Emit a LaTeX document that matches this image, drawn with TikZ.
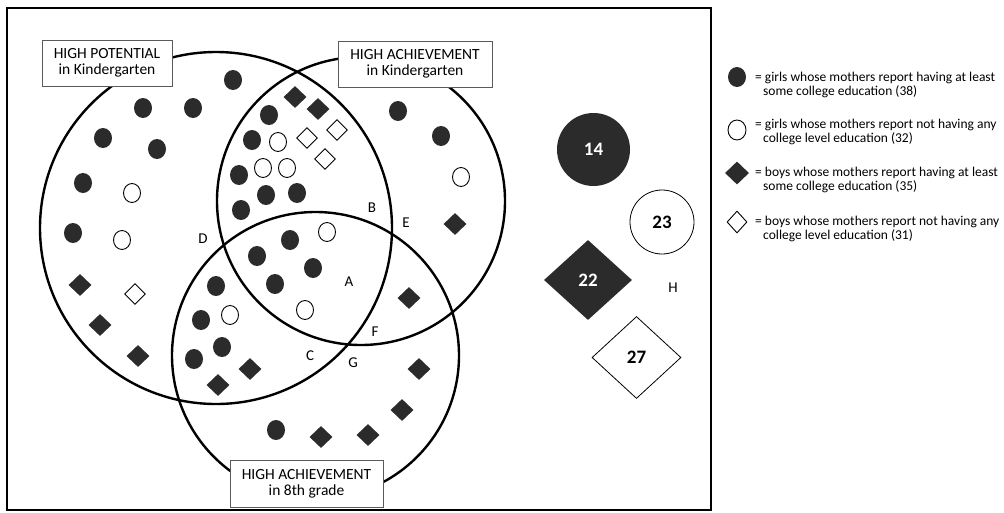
\documentclass[tikz,border=0pt]{standalone}
\usepackage{fontspec}
\setmainfont{Carlito}
\usetikzlibrary{shapes.geometric}
\definecolor{dark}{RGB}{43,43,43}
\definecolor{boxgray}{RGB}{90,90,90}
\begin{document}
\begin{tikzpicture}[x=1pt,y=-1pt,
 venn/.style={draw, circle, line width=2.4pt, inner sep=0pt},
 gfill/.style={ellipse, fill=dark, minimum width=18pt, minimum height=20pt, inner sep=0pt},
 gopen/.style={ellipse, draw, line width=0.9pt, fill=white, minimum width=17pt, minimum height=19pt, inner sep=0pt},
 bfill/.style={diamond, fill=dark, minimum width=23pt, minimum height=22pt, inner sep=0pt},
 bopen/.style={diamond, draw, line width=0.9pt, fill=white, minimum width=21pt, minimum height=21pt, inner sep=0pt},
 region/.style={font=\fontsize{15}{15}\selectfont, inner sep=0pt},
 titlebox/.style={draw=boxgray, line width=0.8pt, fill=white, align=center, font=\fontsize{15.5}{16}\selectfont, minimum height=46pt, inner sep=0pt},
 legtxt/.style={anchor=west, inner sep=0pt, font=\fontsize{13.5}{14}\selectfont},
 bignum/.style={inner sep=0pt, font=\fontsize{19}{19}\selectfont\bfseries},
]
\useasboundingbox (0,0) rectangle (1004,512);
\fill[white] (0,0) rectangle (1004,512);
\draw[line width=2pt] (7,8) rectangle (711,510);

% Venn circles
\node[venn, minimum size=352pt] (P) at (216,228) {};
\node[venn, minimum size=288pt] (K) at (361,201) {};
\node[venn, minimum size=287pt] (G8) at (315.5,355.5) {};

% girls, college
\foreach \x/\y [count=\i] in {233/80,143/108,193/108,103/138,157/149,83/183,73/233,269/115,252/140,239/175,266/195,297/193,241/210,398/111,441/136,290/240,257/256,313/268,275/284,216/286,201/320,222/347,194/359,276/430}
  \node[gfill] (gf\i) at (\x,\y) {};
% girls, no college
\foreach \x/\y [count=\i] in {132/193,122/240,278/142,263/168,287/168,461/177,327/232,230/315,305/310}
  \node[gopen] (go\i) at (\x,\y) {};
% boys, college
\foreach \x/\y [count=\i] in {295/97,318/109,455/224,80/285,100/325,138/356,250/369,218/385,409/298,419/369,402/410,368/435,321/437}
  \node[bfill] (bf\i) at (\x,\y) {};
% boys, no college
\foreach \x/\y [count=\i] in {307/138,337/130,325/159,135/294}
  \node[bopen] (bo\i) at (\x,\y) {};

% region letters
\node[region] (A) at (349,282) {A};
\node[region] (B) at (372,208) {B};
\node[region] (C) at (310,356) {C};
\node[region] (D) at (203,239) {D};
\node[region] (E) at (406,223) {E};
\node[region] (F) at (375,332) {F};
\node[region] (G) at (353,363) {G};
\node[region] (H) at (673,288) {H};

% title boxes
\node[titlebox, minimum width=130pt] (tP) at (107,63) {HIGH POTENTIAL\\in Kindergarten};
\node[titlebox, minimum width=154pt] (tK) at (415,64) {HIGH ACHIEVEMENT\\in Kindergarten};
\node[titlebox, minimum width=153pt, minimum height=47pt] (tG) at (306.5,483.5) {HIGH ACHIEVEMENT\\in 8th grade};

% outside group (H)
\node[circle, fill=dark, minimum size=73pt, inner sep=0pt, text=white, bignum] (n14) at (593.5,149.5) {14};
\node[circle, draw, line width=0.8pt, fill=white, minimum size=64pt, bignum] (n23) at (662,222) {23};
\node[diamond, fill=dark, minimum width=88pt, minimum height=80pt, text=white, bignum] (n22) at (588,280) {22};
\node[diamond, draw, line width=0.8pt, fill=white, minimum width=89pt, minimum height=82pt, bignum] (n27) at (636.5,357.5) {27};

% legend
\node[gfill, minimum width=18pt, minimum height=20pt] (lg1) at (737,77) {};
\node[gopen, minimum width=18pt, minimum height=20pt] (lg2) at (737,130) {};
\node[bfill, minimum width=24pt, minimum height=23pt] (lg3) at (737,173) {};
\node[bopen, minimum width=20pt, minimum height=22pt] (lg4) at (737,222) {};
\node[legtxt] (l1a) at (755,78) {= girls whose mothers report having at least};
\node[legtxt] (l1b) at (763,92) {some college education (38)};
\node[legtxt] (l2a) at (755,125) {= girls whose mothers report not having any};
\node[legtxt] (l2b) at (763,139) {college level education (32)};
\node[legtxt] (l3a) at (755,173) {= boys whose mothers report having at least};
\node[legtxt] (l3b) at (763,187) {some college education (35)};
\node[legtxt] (l4a) at (755,222) {= boys whose mothers report not having any};
\node[legtxt] (l4b) at (763,236) {college level education (31)};
\end{tikzpicture}
\end{document}
